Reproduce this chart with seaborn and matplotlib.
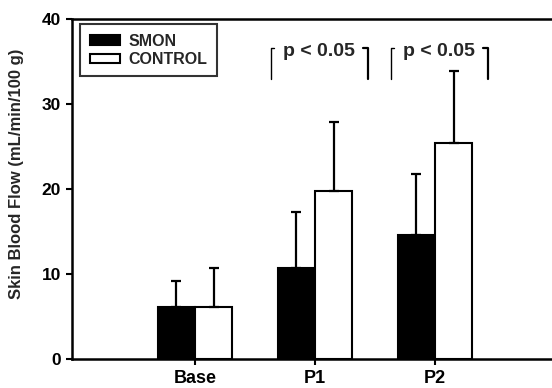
import pandas as pd
import seaborn as sns
import matplotlib.pyplot as plt

# values
phases = ["Base", "P1", "P2"]
groups = ["SMON", "CONTROL"]
smon_mean = [6.1, 10.7, 14.6]
smon_sd = [3.1, 6.6, 7.2]
control_mean = [6.1, 19.8, 25.4]
control_sd = [4.6, 8.1, 8.5]
sig_phases = ["P1", "P2"]
sig_label = "p < 0.05"

df = pd.DataFrame({
    "phase": phases * 2,
    "group": [groups[0]] * 3 + [groups[1]] * 3,
    "flow": smon_mean + control_mean,
    "sd": smon_sd + control_sd,
})

sns.set_theme(style="ticks")
plt.rcParams["font.family"] = ["Liberation Sans", "DejaVu Sans"]
plt.rcParams["font.weight"] = "bold"

fig = plt.figure(figsize=(5.52, 3.88), dpi=100)
ax = fig.add_axes([0.1304, 0.0747, 0.8696, 0.8763])

sns.barplot(data=df, x="phase", y="flow", hue="group", order=phases,
            hue_order=groups, palette=["black", "white"], width=0.62,
            edgecolor="black", linewidth=1.5, errorbar=None, ax=ax)

# upward-only error bars, placed on the bars seaborn drew
for bar, (_, row) in zip(ax.patches, df.iterrows()):
    xc = bar.get_x() + bar.get_width() / 2
    ax.errorbar(xc, row["flow"], yerr=[[0], [row["sd"]]], fmt="none",
                ecolor="black", elinewidth=1.6, capsize=3.5, capthick=1.6,
                zorder=1)

# significance brackets
for ph in sig_phases:
    i = phases.index(ph)
    xl, xr = i - 0.37, i + 0.44
    ax.plot([xl, xl, xl + 0.03], [33.0, 36.6, 36.6], color="black", lw=1)
    ax.plot([xr - 0.04, xr, xr], [36.6, 36.6, 33.0], color="black", lw=1.6)
    ax.text(i + 0.03, 36.2, sig_label, ha="center", va="center",
            fontsize=14, fontweight="bold")

ax.set_xlim(-1.025, 2.975)
ax.set_ylim(0, 40)
ax.set_yticks([0, 10, 20, 30, 40])
ax.set_xlabel("")
ax.set_ylabel("Skin Blood Flow (mL/min/100 g)", fontsize=12,
              fontweight="bold")
ax.yaxis.set_label_coords(-0.1, 0.544)
ax.tick_params(axis="both", width=1.5, length=4, colors="black")
ax.tick_params(axis="y", labelsize=12.5, pad=4)
ax.tick_params(axis="x", labelsize=13, pad=4)
for lab in ax.get_xticklabels() + ax.get_yticklabels():
    lab.set_fontweight("bold")

for side in ["left", "top", "bottom"]:
    ax.spines[side].set_linewidth(1.8)
    ax.spines[side].set_color("black")
ax.spines["right"].set_visible(False)

leg = ax.legend(loc="upper left", bbox_to_anchor=(0.017, 0.985), frameon=True,
                fancybox=False, edgecolor="black", fontsize=11.5,
                handlelength=1.9, handleheight=0.5, handletextpad=0.5,
                borderpad=0.6, labelspacing=0.2, borderaxespad=0)
leg.get_frame().set_linewidth(1.5)
for t in leg.get_texts():
    t.set_fontweight("bold")

fig.savefig("out.png", dpi=100)
